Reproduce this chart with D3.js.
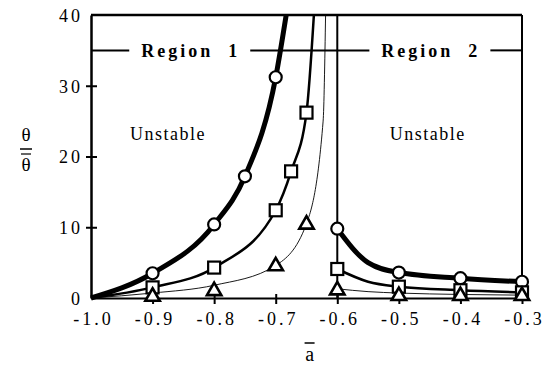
<!doctype html>
<meta charset="utf-8">
<title>theta ratio vs a</title>
<script src="https://cdn.jsdelivr.net/npm/d3@7"></script>
<style>
  body { margin: 0; background: #fff; }
  text { font-family: "Liberation Serif", "Times New Roman", serif; fill: #000; }
</style>
<div id="chart"></div>
<script>
  // tick values
  const xTicks = [-1.0, -0.9, -0.8, -0.7, -0.6, -0.5, -0.4, -0.3]
  const yTicks = [0, 10, 20, 30, 40]

  // line points (region 1 runs off the top near the asymptote)
  const circleLine1 = [[-1.0, 0], [-0.9, 3.5], [-0.8, 10.4], [-0.75, 17.2], [-0.7, 31.2], [-0.683, 40]]
  const squareLine1 = [[-1.0, 0], [-0.9, 1.5], [-0.8, 4.3], [-0.7, 12.4], [-0.675, 17.9], [-0.65, 26.2], [-0.638, 40]]
  const triLine1 = [[-1.0, 0], [-0.9, 0.7], [-0.8, 1.8], [-0.7, 4.6], [-0.65, 10.5], [-0.623, 25], [-0.619, 40]]

  const circleLine2 = [[-0.6, 9.8], [-0.55, 5.0], [-0.5, 3.6], [-0.4, 2.8], [-0.3, 2.3]]
  const squareLine2 = [[-0.6, 4.1], [-0.55, 2.3], [-0.5, 1.6], [-0.4, 1.1], [-0.3, 0.8]]
  const triLine2 = [[-0.6, 1.3], [-0.55, 0.9], [-0.5, 0.7], [-0.4, 0.5], [-0.3, 0.4]]

  // marker positions
  const circleMarks = [[-0.9, 3.5], [-0.8, 10.4], [-0.75, 17.2], [-0.7, 31.2],
    [-0.6, 9.8], [-0.5, 3.6], [-0.4, 2.8], [-0.3, 2.3]]
  const squareMarks = [[-0.9, 1.5], [-0.8, 4.3], [-0.7, 12.4], [-0.675, 17.9], [-0.65, 26.2],
    [-0.6, 4.1], [-0.5, 1.6], [-0.4, 1.1], [-0.3, 0.8]]
  const triMarks = [[-0.9, 0.2], [-0.8, 1.0], [-0.7, 4.5], [-0.65, 10.4],
    [-0.6, 1.1], [-0.5, 0.3], [-0.4, 0.3], [-0.3, 0.3]]

  const boundary = -0.6
  const regionLevel = 35

  const W = 546, H = 376
  const mLeft = 91, mRight = 522, mTop = 15, mBottom = 298

  const svg = d3.select('#chart').append('svg')
    .attr('width', W).attr('height', H)

  const x = d3.scaleLinear().domain([-1.0, -0.3]).range([mLeft, mRight])
  const y = d3.scaleLinear().domain([0, 40]).range([mBottom, mTop])

  const plot = svg.append('g')
  svg.append('clipPath').attr('id', 'clip')
    .append('rect').attr('x', mLeft - 2).attr('y', mTop).attr('width', mRight - mLeft + 10).attr('height', mBottom - mTop + 10)

  const line = d3.line().x(d => x(d[0])).y(d => y(d[1])).curve(d3.curveMonotoneX)

  // frame
  plot.append('line').attr('x1', mLeft).attr('x2', mRight).attr('y1', mTop).attr('y2', mTop)
    .attr('stroke', '#000').attr('stroke-width', 2.5)
  plot.append('line').attr('x1', mRight).attr('x2', mRight).attr('y1', mTop).attr('y2', mBottom)
    .attr('stroke', '#000').attr('stroke-width', 2)
  plot.append('line').attr('x1', x(boundary)).attr('x2', x(boundary)).attr('y1', mTop).attr('y2', mBottom)
    .attr('stroke', '#000').attr('stroke-width', 2)

  // region labels on the y=35 line
  const rl = plot.append('g')
  const regions = [['Region  1', -0.838], ['Region  2', -0.448]]
  const gaps = []
  regions.forEach(r => {
    const t = rl.append('text')
      .attr('x', x(r[1])).attr('y', y(regionLevel) + 7)
      .attr('text-anchor', 'middle')
      .attr('font-size', 18).attr('font-weight', 'bold')
      .attr('letter-spacing', 3)
      .style('white-space', 'pre')
      .text(r[0])
    const b = t.node().getBBox()
    gaps.push([b.x - 12, b.x + b.width + 10])
  })
  const segs = [[mLeft, gaps[0][0]], [gaps[0][1], gaps[1][0]], [gaps[1][1], mRight]]
  segs.forEach(s => {
    rl.append('line').attr('x1', s[0]).attr('x2', s[1])
      .attr('y1', y(regionLevel)).attr('y2', y(regionLevel))
      .attr('stroke', '#000').attr('stroke-width', 2)
  })

  // unstable labels
  ;[-0.875, -0.453].forEach(v => {
    plot.append('text').attr('x', x(v)).attr('y', 140)
      .attr('text-anchor', 'middle').attr('font-size', 18).attr('letter-spacing', 1.5)
      .text('Unstable')
  })

  // curves
  const curves = plot.append('g').attr('clip-path', 'url(#clip)')
  const series = [
    [circleLine1, 5], [circleLine2, 5],
    [squareLine1, 2.5], [squareLine2, 2.5],
    [triLine1, 0.9], [triLine2, 0.9]
  ]
  series.forEach(s => {
    curves.append('path').attr('d', line(s[0]))
      .attr('fill', 'none').attr('stroke', '#000').attr('stroke-width', s[1])
  })

  // axes
  const yAxis = svg.append('g').attr('transform', `translate(${mLeft},0)`)
    .call(d3.axisLeft(y).tickValues(yTicks).tickSize(0).tickPadding(8).tickFormat(d3.format('d')))
  yAxis.select('.domain').attr('stroke-width', 2.5)
  yAxis.selectAll('.tick text').attr('font-size', 18).attr('letter-spacing', 3)
    .attr('font-family', '"Liberation Serif", serif').attr('dy', '0.36em')
  yAxis.selectAll('.tick').filter(d => d > 0 && d < 40).append('line')
    .attr('x1', -5).attr('x2', 6).attr('stroke', '#000').attr('stroke-width', 2)

  const xAxis = svg.append('g').attr('transform', `translate(0,${mBottom})`)
    .call(d3.axisBottom(x).tickValues(xTicks).tickSize(0).tickPadding(14).tickFormat(d3.format('.1f')))
  xAxis.select('.domain').attr('stroke-width', 2)
  xAxis.selectAll('.tick text').attr('font-size', 18).attr('letter-spacing', 3)
    .attr('font-family', '"Liberation Serif", serif')
    .attr('dx', 2)
    .text(d => d3.format('.1f')(d).replace('−', '-'))
  xAxis.selectAll('.tick').filter(d => d > -1).append('line')
    .attr('y1', -4).attr('y2', 6).attr('stroke', '#000').attr('stroke-width', 2)

  // markers
  const marks = svg.append('g').attr('fill', '#fff').attr('stroke', '#000').attr('stroke-width', 2.2)
  marks.selectAll('circle').data(circleMarks).join('circle')
    .attr('cx', d => x(d[0])).attr('cy', d => y(d[1])).attr('r', 6)
  marks.selectAll('rect').data(squareMarks).join('rect')
    .attr('x', d => x(d[0]) - 6).attr('y', d => y(d[1]) - 6).attr('width', 12).attr('height', 12)
  const tri = d3.symbol().type(d3.symbolTriangle).size(90)
  marks.selectAll('path').data(triMarks).join('path')
    .attr('transform', d => `translate(${x(d[0])},${y(d[1])})`)
    .attr('d', tri).attr('stroke-width', 2.6)

  // axis titles
  const yl = svg.append('g')
  yl.append('text').attr('x', 26).attr('y', 141).attr('text-anchor', 'middle').attr('font-size', 19).text('θ')
  yl.append('line').attr('x1', 20).attr('x2', 32).attr('y1', 149).attr('y2', 149).attr('stroke', '#000').attr('stroke-width', 1.5)
  yl.append('line').attr('x1', 21).attr('x2', 31).attr('y1', 154).attr('y2', 154).attr('stroke', '#000').attr('stroke-width', 1.2)
  yl.append('text').attr('x', 26).attr('y', 171).attr('text-anchor', 'middle').attr('font-size', 19).text('θ')

  svg.append('line').attr('x1', x(-0.645) - 5).attr('x2', x(-0.645) + 5).attr('y1', 343).attr('y2', 343)
    .attr('stroke', '#000').attr('stroke-width', 1.5)
  svg.append('text').attr('x', x(-0.645)).attr('y', 361).attr('text-anchor', 'middle').attr('font-size', 20).text('a')
</script>
